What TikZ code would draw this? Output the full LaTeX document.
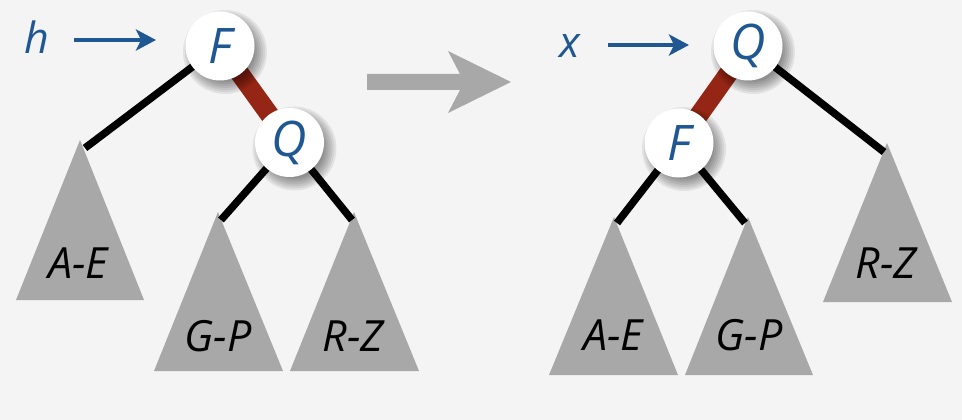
\documentclass[tikz,border=0pt]{standalone}
\usepackage{fontspec}
\setmainfont{Open Sans}
\usetikzlibrary{arrows.meta}
\definecolor{bg}{HTML}{F4F4F4}
\definecolor{tri}{HTML}{A8A8A8}
\definecolor{keyblue}{HTML}{1E5792}
\definecolor{redlink}{HTML}{952615}
\tikzset{
  subtree/.style={fill=tri, draw=none},
  blackedge/.style={line width=7.5pt, black},
  rededge/.style={line width=19pt, redlink},
  keycircle/.style={circle, fill=white, minimum size=69pt, inner sep=0pt,
    text=keyblue, font=\fontsize{49}{49}\selectfont\itshape},
  rangelabel/.style={font=\fontsize{43}{43}\selectfont\itshape, inner sep=0pt, anchor=base, text=black},
  ptrlabel/.style={font=\fontsize{43}{43}\selectfont\itshape, inner sep=0pt, anchor=base, text=keyblue},
  ptr/.style={keyblue, line width=4pt, -{Stealth[length=20pt,width=21pt,inset=5pt]}},
}
\newcommand\keyshadow[2]{%
  \foreach \r in {42,40,...,30}{\fill[black,opacity=0.07] (#1+5,#2+6) circle[radius=\r pt];}}
\begin{document}
\begin{tikzpicture}[x=1pt,y=-1pt]
\fill[bg] (0,0) rectangle (962,420);
\useasboundingbox (0,0) rectangle (962,420);

% ---------- left tree ----------
\fill[subtree] (80,140) -- (144,300) -- (16,300) -- cycle;
\fill[subtree] (218,212) -- (283,371) -- (154,371) -- cycle;
\fill[subtree] (354,212) -- (419,371) -- (290,371) -- cycle;
\coordinate (lAE) at (85,148);
\coordinate (lGP) at (221,220);
\coordinate (lRZ) at (352,220);
\node[rangelabel] (lAEt) at (78,278) {A-E};
\node[rangelabel] (lGPt) at (218,351) {G-P};
\node[rangelabel] (lRZt) at (353,351) {R-Z};

\coordinate (lFc) at (220,46);
\coordinate (lQc) at (289.5,142.5);
\draw[blackedge] (lFc) -- (lAE);
\draw[blackedge] (lQc) -- (lGP);
\draw[blackedge] (lQc) -- (lRZ);
\draw[rededge] (lFc) -- (lQc);
\keyshadow{220}{46}
\keyshadow{289.5}{142.5}
\node[keycircle] (lF) at (lFc) {F};
\node[keycircle] (lQ) at (lQc) {Q};

\node[ptrlabel] (h) at (37,54) {h};
\coordinate (hs) at (74,40);
\coordinate (he) at (156,40);
\draw[ptr] (hs) -- (he);

% ---------- transformation arrow ----------
\fill[tri] (367,74) -- (460,74) -- (448,51) -- (511,82) -- (448,113) -- (460,90) -- (367,90) -- cycle;

% ---------- right tree ----------
\fill[subtree] (614,217) -- (678,375) -- (549,375) -- cycle;
\fill[subtree] (748,217) -- (813,375) -- (685,375) -- cycle;
\fill[subtree] (887,143) -- (952,302) -- (823,302) -- cycle;
\coordinate (rAE) at (617,223);
\coordinate (rGP) at (745,223);
\coordinate (rRZ) at (884,152);
\node[rangelabel] (rAEt) at (613,350) {A-E};
\node[rangelabel] (rGPt) at (749,350) {G-P};
\node[rangelabel] (rRZt) at (886,278) {R-Z};

\coordinate (rQc) at (748,46);
\coordinate (rFc) at (679,143);
\draw[blackedge] (rQc) -- (rRZ);
\draw[blackedge] (rFc) -- (rAE);
\draw[blackedge] (rFc) -- (rGP);
\draw[rededge] (rQc) -- (rFc);
\keyshadow{748}{46}
\keyshadow{679}{143}
\node[keycircle] (rQ) at (rQc) {Q};
\node[keycircle] (rF) at (rFc) {F};

\node[ptrlabel] (x) at (570,58) {x};
\coordinate (xs) at (608,45);
\coordinate (xe) at (689,45);
\draw[ptr] (xs) -- (xe);
\end{tikzpicture}
\end{document}
